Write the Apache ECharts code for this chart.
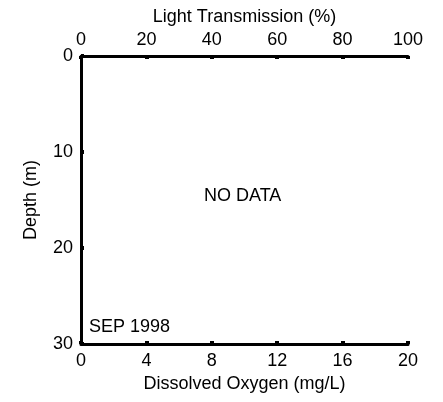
<!DOCTYPE html>
<html>
<head>
<meta charset="utf-8">
<script src="https://cdn.jsdelivr.net/npm/echarts@6/dist/echarts.min.js"></script>
<style>
html,body{margin:0;padding:0;background:#fff;}
#main{width:443px;height:402px;}
</style>
</head>
<body>
<div id="main"></div>
<script>
// axis ranges / tick spacing
var lightTicks = [0, 100, 20];     // min, max, interval
var oxygenTicks = [0, 20, 4];
var depthTicks = [0, 30, 10];
// no measurements for this month
var oxygenData = [];
var lightData = [];
var stationLabel = 'SEP 1998';
var noDataText = 'NO DATA';

var FONT = 'Liberation Sans, Arial, Helvetica, sans-serif';
var myChart = echarts.init(document.getElementById('main'));

function axisBase(t) {
  return {
    type: 'value',
    min: t[0],
    max: t[1],
    interval: t[2],
    axisLine: {show: true, onZero: false, lineStyle: {color: '#000', width: 3}},
    axisTick: {show: true, inside: true, length: 3, lineStyle: {color: '#000', width: 4}},
    splitLine: {show: false},
    axisLabel: {color: '#000', fontSize: 18, fontFamily: FONT, margin: 7},
    nameLocation: 'middle',
    nameTextStyle: {color: '#000', fontSize: 18, fontFamily: FONT}
  };
}

var xTop = axisBase(lightTicks);
xTop.position = 'top';
xTop.name = 'Light Transmission (%)';
xTop.nameGap = 29;

var xBottom = axisBase(oxygenTicks);
xBottom.position = 'bottom';
xBottom.name = 'Dissolved Oxygen (mg/L)';
xBottom.nameGap = 30;
xBottom.axisLabel.margin = 8;

var yLeft = axisBase(depthTicks);
yLeft.inverse = true;
yLeft.name = 'Depth (m)';
yLeft.nameGap = 41;
yLeft.axisLabel.margin = 8;

var option = {
  backgroundColor: '#fff',
  animation: false,
  grid: {left: 81, right: 35, top: 56, bottom: 58},
  xAxis: [xBottom, xTop],
  yAxis: [yLeft],
  series: [
    {type: 'line', xAxisIndex: 0, data: oxygenData, lineStyle: {color: '#000'}},
    {type: 'line', xAxisIndex: 1, data: lightData, lineStyle: {color: '#000'}}
  ],
  graphic: [
    {type: 'text', left: 204, top: 187,
      style: {text: noDataText, fill: '#000', font: '18px ' + FONT}},
    {type: 'text', left: 89, top: 318,
      style: {text: stationLabel, fill: '#000', font: '18px ' + FONT}}
  ]
};
option && myChart.setOption(option);
</script>
</body>
</html>
